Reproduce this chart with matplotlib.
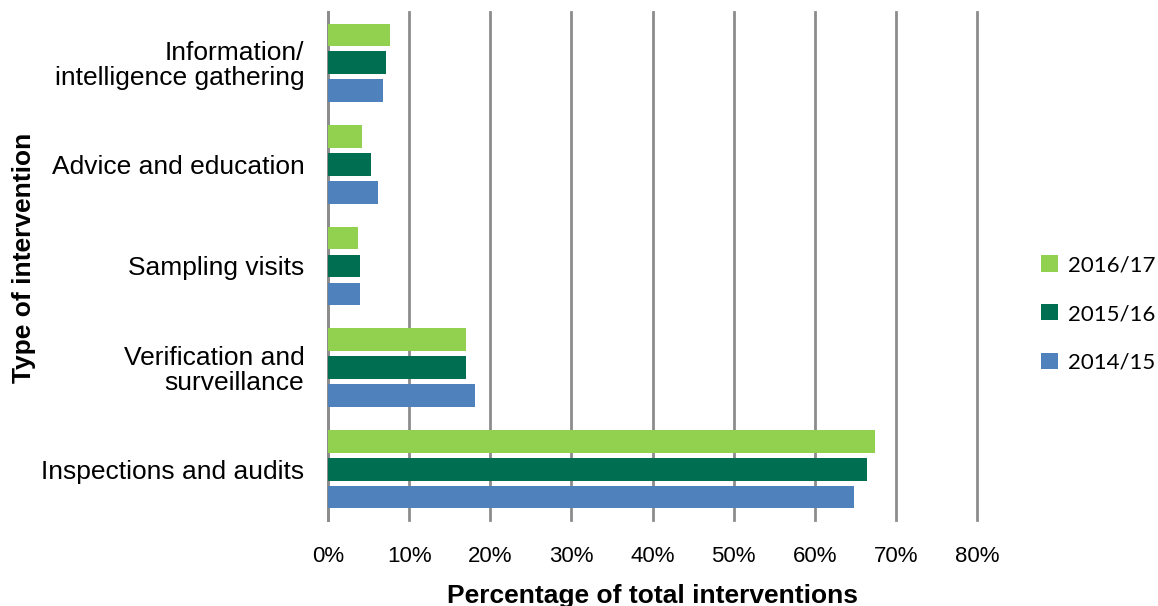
import matplotlib
matplotlib.use("Agg")
import matplotlib.pyplot as plt
import numpy as np

categories = ["Inspections and audits", "Verification and\nsurveillance", "Sampling visits",
              "Advice and education", "Information/\nintelligence gathering"]
years = ["2014/15", "2015/16", "2016/17"]
v2014 = [64.8, 18.15, 4.0, 6.2, 6.75]
v2015 = [66.5, 17.0, 4.0, 5.35, 7.1]
v2016 = [67.4, 16.95, 3.65, 4.25, 7.65]
colors = ["#4F81BD", "#006F51", "#92D050"]
xticks = [0, 10, 20, 30, 40, 50, 60, 70, 80]

plt.rcParams['font.family'] = ['Liberation Sans', 'DejaVu Sans']
fig = plt.figure(figsize=(11.58, 6.06), dpi=100)
ax = fig.add_axes([328/1158, 86/606, (977-328)/1158, (520-12)/606])

y = np.arange(len(categories))
pitch = 0.275
h = 0.223
handles = []
for i, (vals, c, lab) in enumerate(zip([v2014, v2015, v2016], colors, years)):
    b = ax.barh(y + (i - 1) * pitch, vals, height=h, color=c, label=lab, zorder=3)
    handles.append(b)

ax.set_xlim(0, 80)
ax.set_ylim(-0.5, 4.5)
ax.set_xticks(xticks)
ax.set_xticklabels([f"{t}%" for t in xticks], fontsize=16)
ax.set_yticks(y)
ax.set_yticklabels(categories, fontsize=19, linespacing=1.05)
ax.tick_params(axis='both', length=0)
ax.tick_params(axis='x', pad=19)
ax.tick_params(axis='y', pad=17)
ax.grid(axis='x', color='#8C8C8C', linewidth=2, zorder=0)
for gl in ax.get_xgridlines():
    gl.set_clip_on(False)
for s in ['top', 'right', 'bottom']:
    ax.spines[s].set_visible(False)
ax.spines['left'].set_color('#8C8C8C')
ax.spines['left'].set_linewidth(2)
ax.set_xlabel("Percentage of total interventions", fontsize=19, fontweight='bold', labelpad=12)
ax.set_ylabel("Type of intervention", fontsize=19, fontweight='bold')
ax.yaxis.set_label_coords((36 - 328) / 649, (520 - 258) / 508)

leg = fig.legend(handles[::-1], years[::-1], loc='center left',
                 bbox_to_anchor=(1041/1158, 1 - 314/606),
                 frameon=False, handlelength=0.75, handleheight=0.75, borderpad=0,
                 borderaxespad=0, labelspacing=1.3, handletextpad=0.45,
                 prop={'family': 'Lato', 'size': 16})
fig.savefig("out.png", dpi=100)
